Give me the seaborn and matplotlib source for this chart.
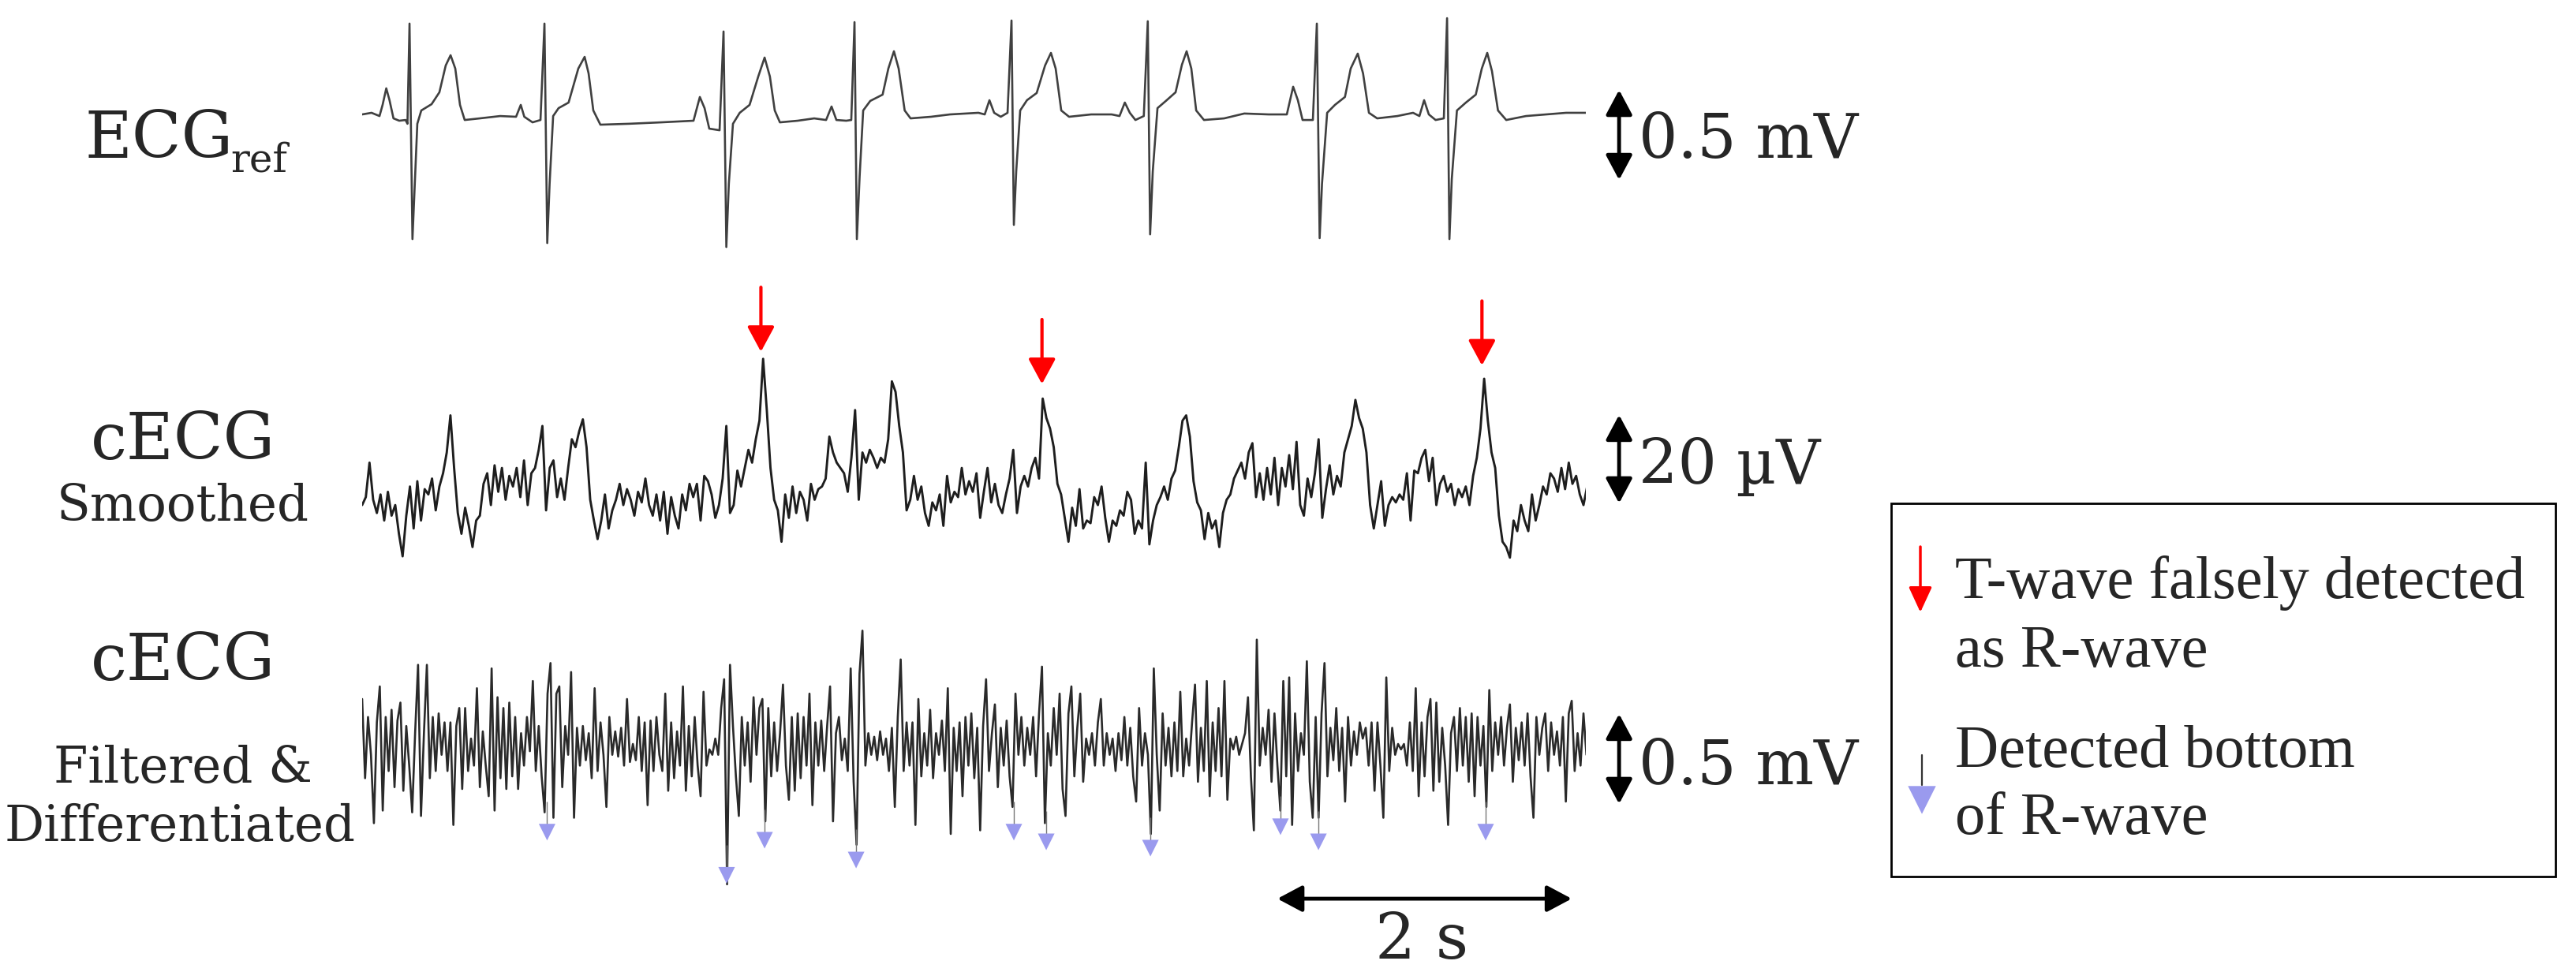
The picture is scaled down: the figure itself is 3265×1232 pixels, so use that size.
import numpy as np
import pandas as pd
import matplotlib
matplotlib.use("Agg")
import matplotlib.pyplot as plt
from matplotlib.patches import Rectangle
from matplotlib import font_manager
import seaborn as sns

# ---------------- data ----------------
# Reference ECG: time (s) and amplitude (mV)
ecg_ref_t = [0.000, 0.064, 0.118, 0.139, 0.164, 0.186, 0.213, 0.252, 0.295, 0.308,
             0.322, 0.342, 0.358, 0.375, 0.402, 0.472, 0.525, 0.568, 0.601, 0.633,
             0.665, 0.697, 0.799, 0.938, 1.046, 1.078, 1.102, 1.158, 1.212, 1.239,
             1.258, 1.274, 1.298, 1.335, 1.403, 1.469, 1.512, 1.539, 1.571, 1.619,
             1.812, 2.032, 2.252, 2.295, 2.327, 2.359, 2.429, 2.456, 2.475, 2.492,
             2.520, 2.566, 2.633, 2.692, 2.735, 2.771, 2.804, 2.839, 2.960, 3.072,
             3.153, 3.190, 3.223, 3.290, 3.324, 3.346, 3.362, 3.381, 3.405, 3.453,
             3.537, 3.576, 3.614, 3.646, 3.687, 3.727, 3.866, 3.995, 4.188, 4.231,
             4.263, 4.295, 4.340, 4.386, 4.413, 4.429, 4.445, 4.472, 4.518, 4.584,
             4.641, 4.681, 4.713, 4.751, 4.804, 4.954, 5.094, 5.147, 5.183, 5.217,
             5.255, 5.312, 5.339, 5.355, 5.373, 5.405, 5.462, 5.528, 5.571, 5.603,
             5.635, 5.668, 5.721, 5.858, 5.995, 6.161, 6.284, 6.327, 6.359, 6.391,
             6.461, 6.488, 6.507, 6.523, 6.558, 6.611, 6.679, 6.718, 6.766, 6.802,
             6.842, 6.898, 7.035, 7.142, 7.185, 7.217, 7.249, 7.295, 7.351, 7.373,
             7.389, 7.405, 7.440, 7.501, 7.568, 7.609, 7.646, 7.678, 7.719, 7.775,
             7.909, 8.048, 8.182, 8.316]
ecg_ref_mv = [0.013, 0.022, 0.004, 0.066, 0.158, 0.092, -0.009, -0.022, -0.018, -0.039,
              0.518, -0.680, -0.373, -0.039, 0.035, 0.070, 0.136, 0.285, 0.342, 0.268,
              0.066, -0.018, -0.009, 0.004, 0.000, 0.066, 0.000, -0.031, -0.018, 0.518,
              -0.702, -0.373, 0.004, 0.048, 0.079, 0.268, 0.333, 0.241, 0.035, -0.044,
              -0.039, -0.031, -0.022, 0.110, 0.048, -0.066, -0.075, 0.474, -0.724, -0.373,
              -0.039, 0.022, 0.066, 0.224, 0.329, 0.224, 0.035, -0.031, -0.022, -0.009,
              -0.018, 0.057, -0.018, -0.022, -0.018, 0.526, -0.680, -0.329, 0.035, 0.088,
              0.123, 0.268, 0.364, 0.268, 0.035, -0.009, 0.000, 0.013, 0.022, 0.013,
              0.092, 0.022, 0.000, 0.022, 0.535, -0.601, -0.303, 0.035, 0.092, 0.132,
              0.285, 0.355, 0.268, 0.035, 0.000, 0.013, 0.013, 0.004, 0.079, 0.022,
              -0.018, 0.004, 0.531, -0.654, -0.303, 0.048, 0.088, 0.136, 0.289, 0.364,
              0.268, 0.035, -0.018, -0.009, 0.018, 0.013, 0.013, 0.167, 0.092, -0.018,
              -0.018, 0.518, -0.675, -0.373, 0.022, 0.066, 0.110, 0.268, 0.351, 0.241,
              0.022, -0.009, 0.004, 0.022, 0.004, 0.092, 0.013, -0.018, -0.009, 0.548,
              -0.680, -0.346, 0.035, 0.079, 0.123, 0.268, 0.355, 0.254, 0.035, -0.018,
              0.004, 0.013, 0.022, 0.022]

# Smoothed capacitive ECG: sampled every 0.025 s, amplitude in microvolts
smooth_dt = 0.025
smooth_uv = [-3.6, -1.8, 6.0, -2.4, -5.4, -1.2, -7.1, -0.6, -6.0, -3.6,
             -10.1, -15.2, -6.0, 0.6, -8.9, 1.8, -7.1, 0.0, -1.2, 2.4,
             -4.8, 0.6, 3.6, 8.3, 16.7, 4.8, -5.4, -10.1, -4.2, -8.3,
             -13.1, -7.1, -6.0, 1.2, 3.6, -3.6, 5.4, -0.6, 4.8, -2.4,
             3.0, 0.6, 4.8, -1.8, 6.5, -3.6, 3.6, 4.8, 8.9, 14.3,
             -4.8, 4.8, 6.5, -1.8, 2.4, -2.4, 4.8, 11.3, 9.5, 13.1,
             15.8, 9.5, -2.4, -7.1, -11.3, -7.1, -1.2, -8.9, -4.8, -2.4,
             1.2, -3.6, 0.0, -2.4, -6.0, -0.6, -3.0, 2.4, -3.6, -6.0,
             -1.2, -7.1, -0.6, -10.1, -1.8, -6.0, -8.9, -1.2, -4.8, 1.2,
             -1.8, 1.2, -7.1, 3.0, 1.8, -1.2, -6.5, -3.6, 2.4, 14.3,
             -5.4, -3.6, 4.2, 0.6, 4.8, 8.9, 6.0, 11.3, 15.5, 29.5,
             17.9, 4.8, -2.4, -4.8, -11.9, -1.2, -6.5, 0.6, -5.4, -0.6,
             -2.4, -7.1, 1.2, -2.4, 0.0, 0.6, 2.4, 11.9, 8.3, 6.0,
             4.8, 3.6, -0.6, 7.1, 17.9, -2.4, 8.3, 6.0, 8.9, 7.1,
             4.8, 7.1, 6.0, 11.3, 24.4, 22.0, 14.3, 8.3, -4.8, -2.4,
             3.0, -2.4, 0.6, -5.4, -8.3, -3.0, -4.8, -1.2, -8.3, 3.0,
             -3.0, -0.6, -1.8, 4.8, -1.2, 1.8, -0.6, 3.6, -6.5, -0.6,
             4.8, -3.0, 1.2, -3.6, -5.4, -1.2, 2.4, 8.9, -5.4, 0.6,
             3.0, 0.6, 4.8, 7.1, 2.4, 20.5, 16.1, 13.7, 9.5, 1.2,
             -1.2, -6.5, -11.9, -4.2, -8.3, 0.0, -8.9, -7.1, -7.7, -1.8,
             -3.6, 0.6, -6.5, -11.9, -7.1, -8.3, -4.8, -6.0, -0.6, -2.4,
             -10.1, -7.1, -8.9, 6.0, -12.5, -7.1, -3.6, -1.8, 0.6, -2.4,
             2.4, 4.2, 9.5, 15.5, 16.7, 11.9, 1.8, -3.0, -4.8, -11.3,
             -5.4, -8.9, -7.1, -13.1, -5.4, -2.4, -1.2, 2.4, 4.2, 6.0,
             2.4, 8.3, 10.4, -1.8, 3.6, -2.4, 4.8, -1.2, 7.1, -3.6,
             4.8, 0.6, 7.7, 0.0, 10.7, -3.6, -6.0, 2.4, -1.8, 3.6,
             11.3, -6.5, 0.0, 5.4, -1.2, 3.0, 0.6, 8.3, 11.3, 14.3,
             20.2, 16.1, 13.7, 8.3, -3.6, -8.9, -3.6, 1.8, -8.3, -3.6,
             -1.8, -3.0, -1.2, -2.4, 3.6, -7.1, 4.2, 3.6, 7.1, 8.9,
             1.8, 7.1, -3.6, 1.2, 3.0, -0.6, 1.2, -3.6, 0.0, -1.8,
             0.6, -3.6, 3.0, 7.1, 13.7, 25.0, 15.5, 8.3, 4.8, -6.0,
             -11.9, -13.1, -15.5, -7.1, -9.5, -3.6, -7.1, -9.5, -1.2, -7.1,
             -3.6, 0.6, -1.2, 3.6, 2.4, -0.6, 4.8, 0.0, 6.0, 1.2,
             3.0, -1.2, -3.6, 0.6]

# Filtered & differentiated capacitive ECG: sampled every 0.02 s, amplitude in mV
diff_dt = 0.02
diff_mv = [0.25, -0.19, 0.15, -0.06, -0.44, 0.12, 0.32, -0.37, 0.15, -0.15,
           0.19, -0.24, 0.13, 0.23, -0.26, 0.10, -0.12, -0.38, 0.06, 0.44,
           -0.40, 0.06, 0.44, -0.19, 0.15, -0.15, 0.17, -0.06, 0.12, -0.15,
           0.12, -0.45, 0.10, 0.20, -0.25, 0.20, -0.15, 0.03, -0.12, 0.31,
           -0.24, 0.07, -0.12, -0.29, 0.42, -0.37, 0.26, -0.19, 0.20, -0.25,
           0.23, -0.18, 0.15, -0.25, 0.06, -0.12, 0.15, -0.04, 0.35, -0.15,
           0.10, -0.18, -0.38, 0.28, 0.45, -0.41, 0.28, 0.32, -0.24, 0.10,
           -0.06, 0.40, -0.41, 0.09, -0.12, 0.10, -0.09, 0.06, -0.19, 0.31,
           -0.15, 0.12, -0.06, -0.35, 0.15, -0.06, 0.07, -0.07, 0.09, -0.12,
           0.25, -0.10, 0.00, -0.09, 0.15, -0.15, 0.12, -0.34, 0.13, -0.15,
           0.15, -0.06, -0.15, 0.28, -0.26, 0.12, -0.19, 0.07, -0.12, 0.32,
           -0.26, 0.10, -0.18, 0.15, -0.12, -0.29, 0.29, -0.12, -0.03, -0.06,
           0.03, -0.06, 0.20, 0.36, -0.78, 0.44, 0.10, -0.18, -0.40, 0.15,
           -0.12, 0.12, -0.21, 0.26, -0.06, 0.20, 0.25, -0.43, 0.20, -0.18,
           0.12, -0.15, 0.06, 0.33, -0.12, -0.31, 0.15, -0.26, 0.17, -0.19,
           0.15, -0.12, 0.28, -0.34, 0.12, -0.12, 0.13, -0.15, 0.10, 0.32,
           -0.43, 0.06, 0.15, -0.09, 0.03, -0.15, 0.42, -0.21, -0.56, 0.39,
           0.63, -0.12, 0.06, -0.06, 0.04, -0.09, 0.07, -0.06, 0.03, -0.15,
           0.09, -0.35, 0.15, 0.47, -0.15, 0.12, -0.12, 0.12, -0.45, 0.25,
           -0.18, 0.06, -0.12, 0.19, -0.19, 0.06, -0.06, 0.13, -0.15, 0.31,
           -0.50, 0.09, -0.15, 0.12, -0.29, 0.15, -0.12, 0.17, -0.19, 0.09,
           -0.48, 0.10, 0.36, -0.15, 0.06, 0.22, -0.24, 0.09, -0.12, 0.13,
           -0.18, -0.35, 0.28, -0.06, 0.15, -0.12, 0.09, -0.06, 0.15, -0.18,
           0.17, 0.43, -0.44, 0.06, -0.12, 0.20, -0.06, 0.28, -0.25, -0.40,
           0.17, 0.32, -0.18, 0.09, 0.28, -0.21, 0.03, -0.06, 0.06, -0.12,
           0.12, 0.25, -0.12, 0.06, -0.06, 0.03, -0.15, 0.06, -0.09, 0.15,
           -0.12, 0.09, -0.18, -0.32, 0.20, -0.12, 0.06, -0.06, -0.50, 0.42,
           -0.06, -0.37, 0.17, -0.12, 0.09, -0.18, 0.12, -0.15, 0.29, -0.18,
           0.03, -0.12, 0.12, 0.33, -0.21, 0.09, -0.15, 0.35, -0.29, 0.12,
           -0.15, 0.20, -0.18, 0.35, -0.31, 0.03, -0.03, 0.04, -0.06, 0.00,
           0.06, 0.26, -0.18, -0.48, 0.58, -0.12, 0.09, -0.06, 0.19, -0.21,
           0.17, -0.12, -0.37, 0.35, -0.18, 0.37, -0.45, 0.17, -0.15, 0.06,
           -0.06, 0.46, -0.21, -0.41, 0.15, -0.41, 0.17, 0.45, -0.18, 0.09,
           -0.09, 0.20, -0.15, 0.09, -0.32, 0.15, -0.12, 0.07, -0.06, 0.12,
           0.03, 0.09, -0.12, 0.12, -0.26, 0.12, -0.12, -0.41, 0.37, -0.15,
           0.09, -0.06, 0.00, -0.03, 0.00, -0.12, 0.12, -0.15, 0.31, -0.29,
           0.12, -0.18, 0.15, 0.25, -0.26, 0.23, -0.21, 0.09, -0.12, -0.45,
           0.06, 0.15, -0.15, 0.20, -0.12, 0.15, -0.21, 0.17, -0.29, 0.15,
           -0.12, 0.10, -0.35, 0.30, -0.15, 0.12, -0.06, 0.15, -0.12, 0.09,
           0.22, -0.21, 0.09, -0.09, 0.12, -0.12, 0.17, -0.18, -0.41, 0.15,
           -0.06, 0.09, 0.17, -0.15, 0.12, -0.06, 0.07, -0.12, 0.15, -0.32,
           0.17, 0.24, -0.15, 0.06, -0.12, 0.17, -0.06]

# T-waves falsely detected as R-waves (time s, arrow tip in uV)
false_t = [2.71, 4.62, 7.61]
false_tip_uv = [31.1, 23.8, 28.0]

# Detected bottoms of R-wave (time s, mV)
det_t = [1.257, 2.477, 2.735, 3.357, 4.429, 4.649, 5.357, 6.241, 6.499, 7.635]
det_mv = [-0.49, -0.73, -0.535, -0.645, -0.49, -0.544, -0.579, -0.46, -0.544, -0.49]

# Text
row_titles = ["ECG", "ref", "cECG", "Smoothed", "cECG", "Filtered &", "Differentiated"]
scale_labels = ["0.5 mV", "20 \u00b5V", "0.5 mV"]
time_label = "2 s"
legend_lines = ["T-wave falsely detected", "as R-wave", "Detected bottom", "of R-wave"]

# ---------------- figure ----------------
sns.set_theme(style="white")
plt.rcParams["font.family"] = ["DejaVu Serif", "DejaVu Sans"]

# Times-like serif for the legend text
legend_family = "DejaVu Serif"
try:
    font_manager.findfont(font_manager.FontProperties(family="Liberation Serif"),
                          fallback_to_default=False)
    legend_family = "Liberation Serif"
except Exception:
    pass

W, H = 3266, 1232
fig = plt.figure(figsize=(W / 100, H / 100), dpi=100)
fig.patch.set_facecolor("white")


def frac(x0, y0, x1, y1):
    return [x0 / W, 1 - y1 / H, (x1 - x0) / W, (y1 - y0) / H]


T_END = 8.316
ax_top = fig.add_axes(frac(459, 0, 2010, 340))
ax_mid = fig.add_axes(frac(459, 340, 2010, 740))
ax_bot = fig.add_axes(frac(459, 760, 2010, 1232))

df_ref = pd.DataFrame({"t": ecg_ref_t, "v": ecg_ref_mv})
df_sm = pd.DataFrame({"t": np.arange(len(smooth_uv)) * smooth_dt, "v": smooth_uv})
df_df = pd.DataFrame({"t": np.arange(len(diff_mv)) * diff_dt, "v": diff_mv})

sns.lineplot(data=df_ref, x="t", y="v", ax=ax_top, color="#404040", linewidth=1.9,
             estimator=None)
sns.lineplot(data=df_sm, x="t", y="v", ax=ax_mid, color="#1e1e1e", linewidth=2.1,
             estimator=None)
sns.lineplot(data=df_df, x="t", y="v", ax=ax_bot, color="#2a2a2a", linewidth=1.9,
             estimator=None)
for ax in (ax_top, ax_mid, ax_bot):
    ax.set_xlim(0, T_END)
    ax.axis("off")
    ax.patch.set_alpha(0)
ax_top.set_ylim(-0.842, 0.649)
ax_mid.set_ylim(-21.43, 50.0)
ax_bot.set_ylim(-1.2675, 0.8026)

# false detections (red arrows)
for t, tip in zip(false_t, false_tip_uv):
    ax_mid.annotate("", xy=(t, tip), xytext=(t, tip + 14.6),
                    arrowprops=dict(arrowstyle="-|>,head_length=0.65,head_width=0.35",
                                    mutation_scale=30, lw=3, color="#ff0000",
                                    shrinkA=0, shrinkB=0),
                    annotation_clip=False)

# detected R-wave bottoms
det_arr = np.array(det_mv)
ax_bot.vlines(det_t, det_arr + 0.04, det_arr + 0.17, color="#777777", lw=1.0, zorder=2)
sns.scatterplot(x=det_t, y=det_mv, ax=ax_bot, marker="v", s=230, color="#9a9aee",
                edgecolor="none", zorder=3, legend=False)

# vertical scale bars (in data units of each trace)
bar_style = dict(arrowstyle="<|-|>,head_length=0.6,head_width=0.32", mutation_scale=32,
                 lw=3.5, color="black", shrinkA=0, shrinkB=0)
t_bar = 8.542
ax_top.annotate("", xy=(t_bar, -0.351), xytext=(t_bar, 0.149), arrowprops=bar_style,
                annotation_clip=False)
ax_mid.annotate("", xy=(t_bar, -3.2), xytext=(t_bar, 16.8), arrowprops=bar_style,
                annotation_clip=False)
ax_bot.annotate("", xy=(t_bar, -0.333), xytext=(t_bar, 0.167), arrowprops=bar_style,
                annotation_clip=False)
# time scale bar (2 s)
ax_bot.annotate("", xy=(6.22, -0.86), xytext=(8.22, -0.86), arrowprops=bar_style,
                annotation_clip=False)

# ---------------- overlay for text & legend ----------------
ov = fig.add_axes([0, 0, 1, 1])
ov.set_xlim(0, W)
ov.set_ylim(H, 0)
ov.axis("off")
ov.patch.set_alpha(0)

ov.text(108, 200, row_titles[0], fontsize=59, ha="left", va="baseline")
ov.text(292, 217, row_titles[1], fontsize=36, ha="left", va="baseline")
ov.text(232, 582, row_titles[2], fontsize=59, ha="center", va="baseline")
ov.text(232, 660, row_titles[3], fontsize=45, ha="center", va="baseline")
ov.text(232, 862, row_titles[4], fontsize=59, ha="center", va="baseline")
ov.text(232, 992, row_titles[5], fontsize=45, ha="center", va="baseline")
ov.text(228, 1066, row_titles[6], fontsize=45, ha="center", va="baseline")

ov.text(2077, 200, scale_labels[0], fontsize=56, ha="left", va="baseline")
ov.text(2077, 613, scale_labels[1], fontsize=56, ha="left", va="baseline")
ov.text(2077, 994, scale_labels[2], fontsize=56, ha="left", va="baseline")
ov.text(1802, 1215, time_label, fontsize=58, ha="center", va="baseline")

# legend box
ov.add_patch(Rectangle((2397, 638), 842, 473, fill=False, lw=2, ec="black"))
lfont = dict(fontsize=55, family=legend_family, ha="left", va="baseline")
ov.text(2478, 758, legend_lines[0], **lfont)
ov.text(2478, 845, legend_lines[1], **lfont)
ov.text(2478, 972, legend_lines[2], **lfont)
ov.text(2478, 1057, legend_lines[3], **lfont)
ov.annotate("", xy=(2434, 776), xytext=(2434, 693),
            arrowprops=dict(arrowstyle="-|>,head_length=0.65,head_width=0.3",
                            mutation_scale=30, lw=2.5, color="#ff0000",
                            shrinkA=0, shrinkB=0))
ov.plot([2436, 2436], [957, 995], color="#333333", lw=1.6)
ov.scatter([2436], [1014], marker="v", s=650, color="#9a9aee", edgecolors="none")

fig.savefig("out.png", dpi=100, facecolor="white")
